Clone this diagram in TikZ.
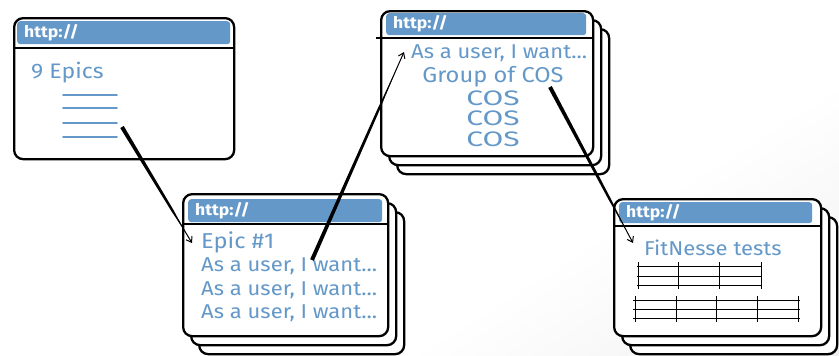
\documentclass[tikz,border=0pt]{standalone}
\usepackage{fontspec}
\setmainfont{Fira Sans}[FakeStretch=1.1]
\usetikzlibrary{arrows.meta,calc}
\definecolor{inkblue}{HTML}{6498C8}
\begin{document}
\begin{tikzpicture}[x=1pt,y=-1pt,
  frame/.style={draw=black, line width=2.3pt, rounded corners=9pt, fill=white,
    anchor=north west, inner sep=0pt},
  titlebar/.style={fill=inkblue, anchor=north west, rounded corners=3pt,
    inner xsep=7pt, inner ysep=0pt, text=white, align=left,
    font=\bfseries\fontsize{16}{16}\selectfont},
  sepline/.style={line width=1.3pt},
  handtext/.style={text=inkblue, inner sep=0pt},
  fs/.style={handtext, font=\fontsize{#1}{#1}\selectfont},
  bluerule/.style={draw=inkblue, line width=1.6pt, line cap=round},
  gridline/.style={draw=black, line width=0.9pt},
  tiptail/.style={draw=black, line width=1pt, -{Straight Barb[length=5pt,width=7pt]}},
]
\useasboundingbox (0,0) rectangle (839,356);

% faint grey wash growing towards the lower right corner (stacked half-planes)
\begin{scope}
  \clip (0,0) rectangle (839,356);
  \foreach \i in {0,...,15} {
    \fill[black, opacity=0.005]
      ($(420,356)+(\i*15*0.536,\i*15*0.844)$) ++(-1266,804)
      -- ++(2532,-1608) -- ++(804,1266) -- ++(-2532,1608) -- cycle;
  }
\end{scope}

% ---------- window 1: epics ----------
\node[frame, minimum width=220pt, minimum height=141pt] (w1) at (13,17) {};
\node[titlebar, minimum height=23pt, text width=199pt] (w1bar) at (17,21) {http://};
\draw[sepline] (13,48) -- (233,48);
\node[fs=21, anchor=west] (w1title) at (31,73) {9 Epics};
\foreach \yy in {95,108,123,137} \draw[bluerule] (63,\yy) -- (117,\yy);

% ---------- window 2: one epic ----------
\node[frame, minimum width=205pt, minimum height=142pt] (w2c) at (198,211) {};
\node[frame, minimum width=205pt, minimum height=142pt] (w2b) at (190,202) {};
\node[frame, minimum width=205pt, minimum height=142pt] (w2) at (182,193) {};
\node[titlebar, minimum height=23pt, text width=180pt] (w2bar) at (188,199) {http://};
\draw[sepline] (182,224) -- (387,224);
\node[fs=21.5, anchor=west] (w2title) at (201,242) {Epic \#1};
\node[fs=20, anchor=west] (w2s1) at (201,266) {As a user, I want...};
\node[fs=20, anchor=west] (w2s2) at (201,290) {As a user, I want...};
\node[fs=20, anchor=west] (w2s3) at (201,313) {As a user, I want...};

% ---------- window 3: story and its conditions ----------
\node[frame, minimum width=212pt, minimum height=145pt] (w3c) at (396,28) {};
\node[frame, minimum width=212pt, minimum height=145pt] (w3b) at (388,19) {};
\node[frame, minimum width=212pt, minimum height=145pt] (w3) at (380,10) {};
\node[titlebar, minimum height=22pt, text width=186pt] (w3bar) at (386,13) {http://};
\draw[sepline] (376,38) -- (592,38);
\node[fs=20, anchor=west] (w3story) at (411,53) {As a user, I want...};
\node[fs=21.5] (w3group) at (493,77) {Group of COS};
\node[fs=21] (w3c1) at (493,98) {\scalebox{1.3}[1]{COS}};
\node[fs=21] (w3c2) at (493,118) {\scalebox{1.3}[1]{COS}};
\node[fs=21] (w3c3) at (493,139) {\scalebox{1.3}[1]{COS}};

% ---------- window 4: FitNesse tests ----------
\node[frame, minimum width=207pt, minimum height=137pt] (w4c) at (629,216) {};
\node[frame, minimum width=207pt, minimum height=137pt] (w4b) at (621,207) {};
\node[frame, minimum width=207pt, minimum height=137pt] (w4) at (613,198) {};
\node[titlebar, minimum height=21pt, text width=179pt] (w4bar) at (619,202) {http://};
\draw[sepline] (613,226) -- (820,226);
\node[fs=20, anchor=west] (w4title) at (644,248) {FitNesse tests};
% first table
\foreach \yy in {266,276,285} \draw[gridline] (637,\yy) -- (762,\yy);
\foreach \xx in {638,678,719,761} \draw[gridline] (\xx,262) -- (\xx,289);
% second table
\foreach \yy in {300,309,318} \draw[gridline] (633,\yy) -- (800,\yy);
\foreach \xx in {635,676,716,757,798} \draw[gridline] (\xx,296) -- (\xx,322);

% ---------- brush-stroke connectors ----------
\coordinate (a1s) at (122,127); \coordinate (a1e) at (192,243);
\coordinate (a2s) at (312,260); \coordinate (a2e) at (404,52);
\coordinate (a3s) at (550,87);  \coordinate (a3e) at (633,243);
\foreach \s/\e in {a1s/a1e, a2s/a2e, a3s/a3e} {
  \fill[black] ($(\s)!2pt!90:(\e)$)
    -- ($($(\s)!0.72!(\e)$)!1.2pt!90:(\e)$)
    -- ($(\s)!0.92!(\e)$)
    -- ($($(\s)!0.72!(\e)$)!1.2pt!-90:(\e)$)
    -- ($(\s)!2pt!-90:(\e)$) -- cycle;
  \draw[tiptail] ($(\s)!0.8!(\e)$) -- (\e);
}
\end{tikzpicture}
\end{document}
